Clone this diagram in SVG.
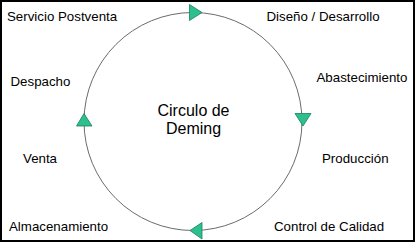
<svg xmlns="http://www.w3.org/2000/svg" width="415" height="242" viewBox="0 0 415 242">
<style>
.lbl{font-family:"Liberation Sans",Arial,sans-serif;font-size:13.3px;fill:#000}
.ttl{font-family:"Liberation Sans",Arial,sans-serif;font-size:16px;fill:#000;text-anchor:middle}
.arr{fill:#2dbf8f;stroke:#17805e;stroke-width:0.8}
</style>
<rect x="1" y="1" width="413" height="240" fill="#fff" stroke="#000" stroke-width="2"/>
<g id="connectors">
<circle cx="193" cy="121.5" r="109" fill="none" stroke="#6b6b6b" stroke-width="1"/>
<polygon class="arr" points="189.5,4.5 189.5,20.5 202,12.5"/>
<polygon class="arr" points="295,113.5 311,113.5 303,126"/>
<polygon class="arr" points="202,222.5 202,239 190,230.5"/>
<polygon class="arr" points="84,113.5 92,126 76.5,126"/>
</g>
<g id="center"><text class="ttl" x="193.5" y="116">Circulo de</text><text class="ttl" x="193.5" y="134">Deming</text></g>
<g id="diseno"><text class="lbl" x="266.5" y="21">Diseño / Desarrollo</text></g>
<g id="abastecimiento"><text class="lbl" x="316.5" y="81.5">Abastecimiento</text></g>
<g id="produccion"><text class="lbl" x="322" y="162.5">Producción</text></g>
<g id="control"><text class="lbl" x="274" y="231">Control de Calidad</text></g>
<g id="almacenamiento"><text class="lbl" x="9" y="231">Almacenamiento</text></g>
<g id="venta"><text class="lbl" x="23" y="162.5">Venta</text></g>
<g id="despacho"><text class="lbl" x="10.5" y="86">Despacho</text></g>
<g id="postventa"><text class="lbl" x="7" y="21">Servicio Postventa</text></g>
</svg>
